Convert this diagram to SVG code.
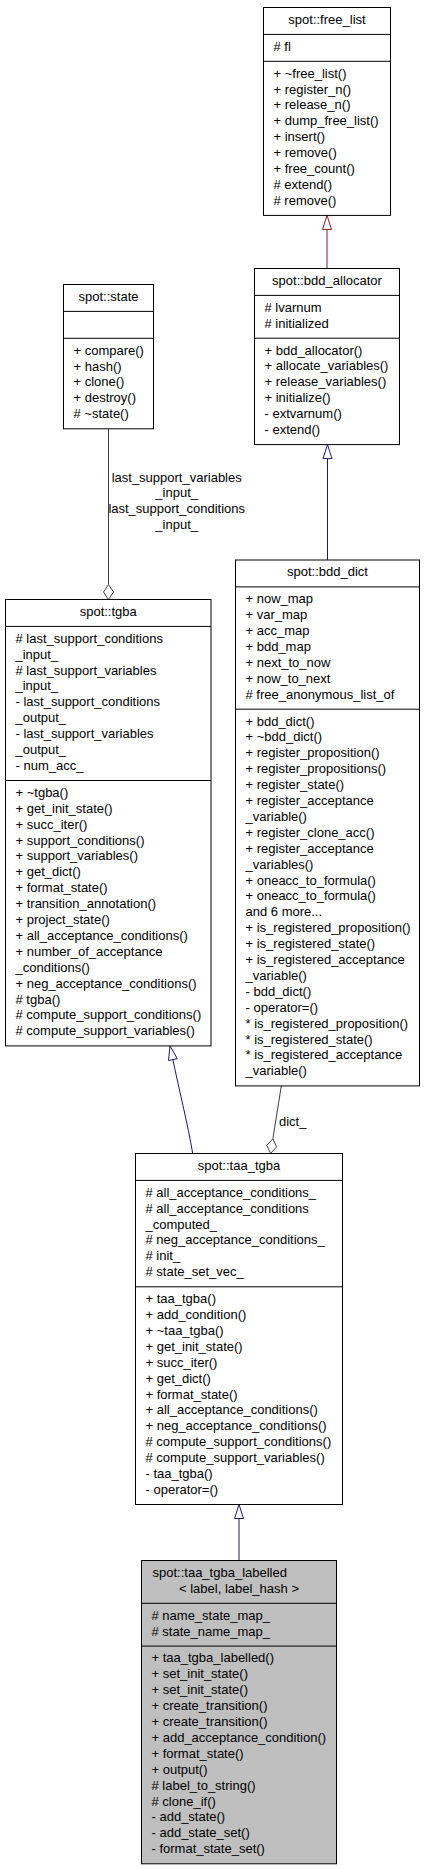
<svg xmlns="http://www.w3.org/2000/svg" width="424" height="1869" viewBox="0 0 424 1869">
<style>
.bx{fill:#fff;stroke:#000;stroke-width:1}
.gb{fill:#bfbfbf;stroke:#000;stroke-width:1}
.sp{stroke:#000;stroke-width:1}
text{font-family:"Liberation Sans",Arial,sans-serif;font-size:13px;fill:#000}
.c{text-anchor:middle}
.red{stroke:#8b1a1a;fill:none;stroke-width:1}
.blue{stroke:#191970;fill:none;stroke-width:1}
.gr{stroke:#404040;fill:none;stroke-width:1}
.hw{fill:#fff}
</style>
<rect width="424" height="1869" fill="#fff"/>
<g id="connectors">
  <line class="red" x1="327" y1="229.4" x2="327" y2="268.5"/>
  <polygon class="red hw" points="327,215.4 331.5,229.4 322.5,229.4"/>
  <line class="blue" x1="327.5" y1="458.6" x2="327.5" y2="560"/>
  <polygon class="blue hw" points="327.5,444.6 332,458.6 323,458.6"/>
  <line class="gr" x1="108.5" y1="428.8" x2="108.5" y2="584.5"/>
  <polygon class="gr hw" points="108.5,584.5 113.5,592 108.5,599.5 103.5,592"/>
  <text class="c" x="176.7" y="481.5">last_support_variables</text>
  <text class="c" x="176.7" y="497.4">_input_</text>
  <text class="c" x="176.7" y="513.3">last_support_conditions</text>
  <text class="c" x="176.7" y="529.2">_input_</text>
  <path class="blue" d="M172.9,1059.6 C178,1085 188,1125 192.7,1153.5"/>
  <polygon class="blue hw" points="170,1045.9 177.3,1058.7 168.5,1060.5"/>
  <line class="gr" x1="281.3" y1="1085.9" x2="272.9" y2="1138.7"/>
  <polygon class="gr hw" points="272.9,1138.7 276.6,1146.9 270.5,1153.5 266.8,1145.3"/>
  <text x="279" y="1126">dict_</text>
  <line class="blue" x1="239" y1="1518.5" x2="239" y2="1560.5"/>
  <polygon class="blue hw" points="239,1504.5 243.5,1518.5 234.5,1518.5"/>
</g>
<g id="free_list">
  <rect class="bx" x="263.5" y="7.5" width="127" height="207.9"/>
  <line class="sp" x1="263.5" y1="34.4" x2="390.5" y2="34.4"/>
  <line class="sp" x1="263.5" y1="61.3" x2="390.5" y2="61.3"/>
  <text class="c" x="327" y="23.8">spot::free_list</text>
  <text x="273.5" y="50.7"># fl</text>
  <text x="273.5" y="77.6">+ ~free_list()</text>
  <text x="273.5" y="93.5">+ register_n()</text>
  <text x="273.5" y="109.4">+ release_n()</text>
  <text x="273.5" y="125.3">+ dump_free_list()</text>
  <text x="273.5" y="141.2">+ insert()</text>
  <text x="273.5" y="157.1">+ remove()</text>
  <text x="273.5" y="173">+ free_count()</text>
  <text x="273.5" y="188.9"># extend()</text>
  <text x="273.5" y="204.8"># remove()</text>
</g>
<g id="bdd_allocator">
  <rect class="bx" x="254.5" y="268.5" width="145" height="176.1"/>
  <line class="sp" x1="254.5" y1="295.4" x2="399.5" y2="295.4"/>
  <line class="sp" x1="254.5" y1="338.2" x2="399.5" y2="338.2"/>
  <text class="c" x="327" y="284.8">spot::bdd_allocator</text>
  <text x="264.5" y="311.7"># lvarnum</text>
  <text x="264.5" y="327.6"># initialized</text>
  <text x="264.5" y="354.5">+ bdd_allocator()</text>
  <text x="264.5" y="370.4">+ allocate_variables()</text>
  <text x="264.5" y="386.3">+ release_variables()</text>
  <text x="264.5" y="402.2">+ initialize()</text>
  <text x="264.5" y="418.1">- extvarnum()</text>
  <text x="264.5" y="434">- extend()</text>
</g>
<g id="state">
  <rect class="bx" x="63.5" y="284.5" width="90" height="144.3"/>
  <line class="sp" x1="63.5" y1="311.4" x2="153.5" y2="311.4"/>
  <line class="sp" x1="63.5" y1="338.3" x2="153.5" y2="338.3"/>
  <text class="c" x="108.5" y="300.8">spot::state</text>
  <text x="73.5" y="354.6">+ compare()</text>
  <text x="73.5" y="370.5">+ hash()</text>
  <text x="73.5" y="386.4">+ clone()</text>
  <text x="73.5" y="402.3">+ destroy()</text>
  <text x="73.5" y="418.2"># ~state()</text>
</g>
<g id="tgba">
  <rect class="bx" x="5.5" y="599.5" width="205.5" height="446.4"/>
  <line class="sp" x1="5.5" y1="626.4" x2="211" y2="626.4"/>
  <line class="sp" x1="5.5" y1="780.5" x2="211" y2="780.5"/>
  <text class="c" x="108.25" y="615.8">spot::tgba</text>
  <text x="15.5" y="642.7"># last_support_conditions</text>
  <text x="15.5" y="658.6">_input_</text>
  <text x="15.5" y="674.5"># last_support_variables</text>
  <text x="15.5" y="690.4">_input_</text>
  <text x="15.5" y="706.3">- last_support_conditions</text>
  <text x="15.5" y="722.2">_output_</text>
  <text x="15.5" y="738.1">- last_support_variables</text>
  <text x="15.5" y="754">_output_</text>
  <text x="15.5" y="769.9">- num_acc_</text>
  <text x="15.5" y="796.8">+ ~tgba()</text>
  <text x="15.5" y="812.7">+ get_init_state()</text>
  <text x="15.5" y="828.6">+ succ_iter()</text>
  <text x="15.5" y="844.5">+ support_conditions()</text>
  <text x="15.5" y="860.4">+ support_variables()</text>
  <text x="15.5" y="876.3">+ get_dict()</text>
  <text x="15.5" y="892.2">+ format_state()</text>
  <text x="15.5" y="908.1">+ transition_annotation()</text>
  <text x="15.5" y="924">+ project_state()</text>
  <text x="15.5" y="939.9">+ all_acceptance_conditions()</text>
  <text x="15.5" y="955.8">+ number_of_acceptance</text>
  <text x="15.5" y="971.7">_conditions()</text>
  <text x="15.5" y="987.6">+ neg_acceptance_conditions()</text>
  <text x="15.5" y="1003.5"># tgba()</text>
  <text x="15.5" y="1019.4"># compute_support_conditions()</text>
  <text x="15.5" y="1035.3"># compute_support_variables()</text>
</g>
<g id="bdd_dict">
  <rect class="bx" x="235.5" y="560" width="184" height="525.9"/>
  <line class="sp" x1="235.5" y1="586.9" x2="419.5" y2="586.9"/>
  <line class="sp" x1="235.5" y1="709.2" x2="419.5" y2="709.2"/>
  <text class="c" x="327.5" y="576.3">spot::bdd_dict</text>
  <text x="245.5" y="603.2">+ now_map</text>
  <text x="245.5" y="619.1">+ var_map</text>
  <text x="245.5" y="635">+ acc_map</text>
  <text x="245.5" y="650.9">+ bdd_map</text>
  <text x="245.5" y="666.8">+ next_to_now</text>
  <text x="245.5" y="682.7">+ now_to_next</text>
  <text x="245.5" y="698.6"># free_anonymous_list_of</text>
  <text x="245.5" y="725.5">+ bdd_dict()</text>
  <text x="245.5" y="741.4">+ ~bdd_dict()</text>
  <text x="245.5" y="757.3">+ register_proposition()</text>
  <text x="245.5" y="773.2">+ register_propositions()</text>
  <text x="245.5" y="789.1">+ register_state()</text>
  <text x="245.5" y="805">+ register_acceptance</text>
  <text x="245.5" y="820.9">_variable()</text>
  <text x="245.5" y="836.8">+ register_clone_acc()</text>
  <text x="245.5" y="852.7">+ register_acceptance</text>
  <text x="245.5" y="868.6">_variables()</text>
  <text x="245.5" y="884.5">+ oneacc_to_formula()</text>
  <text x="245.5" y="900.4">+ oneacc_to_formula()</text>
  <text x="245.5" y="916.3">and 6 more...</text>
  <text x="245.5" y="932.2">+ is_registered_proposition()</text>
  <text x="245.5" y="948.1">+ is_registered_state()</text>
  <text x="245.5" y="964">+ is_registered_acceptance</text>
  <text x="245.5" y="979.9">_variable()</text>
  <text x="245.5" y="995.8">- bdd_dict()</text>
  <text x="245.5" y="1011.7">- operator=()</text>
  <text x="245.5" y="1027.6">* is_registered_proposition()</text>
  <text x="245.5" y="1043.5">* is_registered_state()</text>
  <text x="245.5" y="1059.4">* is_registered_acceptance</text>
  <text x="245.5" y="1075.3">_variable()</text>
</g>
<g id="taa_tgba">
  <rect class="bx" x="135.5" y="1153.5" width="207" height="351"/>
  <line class="sp" x1="135.5" y1="1180.4" x2="342.5" y2="1180.4"/>
  <line class="sp" x1="135.5" y1="1286.8" x2="342.5" y2="1286.8"/>
  <text class="c" x="239" y="1169.8">spot::taa_tgba</text>
  <text x="145.5" y="1196.7"># all_acceptance_conditions_</text>
  <text x="145.5" y="1212.6"># all_acceptance_conditions</text>
  <text x="145.5" y="1228.5">_computed_</text>
  <text x="145.5" y="1244.4"># neg_acceptance_conditions_</text>
  <text x="145.5" y="1260.3"># init_</text>
  <text x="145.5" y="1276.2"># state_set_vec_</text>
  <text x="145.5" y="1303.1">+ taa_tgba()</text>
  <text x="145.5" y="1319">+ add_condition()</text>
  <text x="145.5" y="1334.9">+ ~taa_tgba()</text>
  <text x="145.5" y="1350.8">+ get_init_state()</text>
  <text x="145.5" y="1366.7">+ succ_iter()</text>
  <text x="145.5" y="1382.6">+ get_dict()</text>
  <text x="145.5" y="1398.5">+ format_state()</text>
  <text x="145.5" y="1414.4">+ all_acceptance_conditions()</text>
  <text x="145.5" y="1430.3">+ neg_acceptance_conditions()</text>
  <text x="145.5" y="1446.2"># compute_support_conditions()</text>
  <text x="145.5" y="1462.1"># compute_support_variables()</text>
  <text x="145.5" y="1478">- taa_tgba()</text>
  <text x="145.5" y="1493.9">- operator=()</text>
</g>
<g id="taa_tgba_labelled">
  <rect class="gb" x="141.5" y="1560.5" width="195" height="303.3"/>
  <line class="sp" x1="141.5" y1="1603.3" x2="336.5" y2="1603.3"/>
  <line class="sp" x1="141.5" y1="1646.1" x2="336.5" y2="1646.1"/>
  <text x="152.5" y="1576.8">spot::taa_tgba_labelled</text>
  <text class="c" x="239" y="1592.7">&lt; label, label_hash &gt;</text>
  <text x="151.5" y="1619.6"># name_state_map_</text>
  <text x="151.5" y="1635.5"># state_name_map_</text>
  <text x="151.5" y="1662.4">+ taa_tgba_labelled()</text>
  <text x="151.5" y="1678.3">+ set_init_state()</text>
  <text x="151.5" y="1694.2">+ set_init_state()</text>
  <text x="151.5" y="1710.1">+ create_transition()</text>
  <text x="151.5" y="1726">+ create_transition()</text>
  <text x="151.5" y="1741.9">+ add_acceptance_condition()</text>
  <text x="151.5" y="1757.8">+ format_state()</text>
  <text x="151.5" y="1773.7">+ output()</text>
  <text x="151.5" y="1789.6"># label_to_string()</text>
  <text x="151.5" y="1805.5"># clone_if()</text>
  <text x="151.5" y="1821.4">- add_state()</text>
  <text x="151.5" y="1837.3">- add_state_set()</text>
  <text x="151.5" y="1853.2">- format_state_set()</text>
</g>
</svg>
